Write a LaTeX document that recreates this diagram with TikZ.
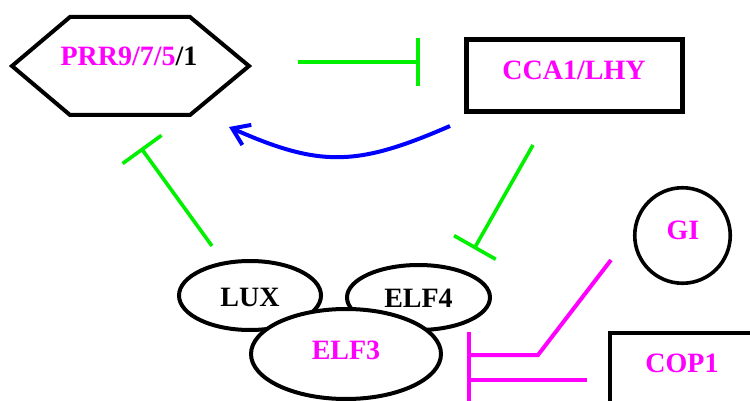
\documentclass[tikz,border=0pt]{standalone}
\usepackage{fontspec}
\setmainfont{Liberation Serif}
\usetikzlibrary{shapes.geometric,arrows.meta}
\definecolor{mag}{RGB}{255,0,255}
\definecolor{grn}{RGB}{0,240,0}
\definecolor{blu}{RGB}{0,0,255}
\begin{document}
\begin{tikzpicture}[x=1pt,y=-1pt,
  lbl/.style={font=\fontsize{28}{30}\selectfont\bfseries, inner sep=0pt, anchor=base},
  oval/.style={draw, ellipse, line width=4pt, fill=white, inner sep=0pt},
  inhg/.style={draw=grn, line width=3.6pt, -{Bar[width=48pt]}},
  inhm/.style={draw=mag, line width=4pt, -{Bar[width=46pt]}},
  act/.style={draw=blu, line width=4pt, -{Straight Barb[length=16pt,width=22pt]}}]
\useasboundingbox (0,0) rectangle (750,401);
\clip (0,0) rectangle (750,401);
\fill[white] (0,0) rectangle (750,401);

% PRR hexagon
\node[inner sep=0pt, minimum width=237pt, minimum height=98pt] (prr) at (130.5,66) {};
\draw[line width=4pt, line join=miter] (12,66) -- (70,17) -- (190,17) -- (249,66) -- (190,115) -- (70,115) -- cycle;
\node[lbl] (prrt) at (129,65.5) {\textcolor{mag}{PRR9/7/5}/1};

% CCA1/LHY
\node[draw, line width=5pt, inner sep=0pt, minimum width=216pt, minimum height=72pt] (cca) at (574.5,75.5) {};
\node[lbl, text=mag] (ccat) at (574,80) {CCA1/LHY};

% evening complex
\node[oval, minimum width=142pt, minimum height=69pt] (lux) at (250,295.5) {};
\node[lbl] (luxt) at (250,306) {LUX};
\node[oval, minimum width=143pt, minimum height=65pt] (elf4) at (418.5,297.5) {};
\node[lbl] (elf4t) at (418.5,307) {ELF4};
\node[oval, minimum width=190pt, minimum height=90pt] (elf3) at (346,354) {};
\node[lbl, text=mag] (elf3t) at (346,359) {ELF3};

% GI
\node[draw, circle, line width=3.6pt, minimum size=95.5pt, inner sep=0pt] (gi) at (682.5,235.5) {};
\node[lbl, text=mag] (git) at (683,239) {GI};

% COP1
\node[draw, line width=4pt, inner sep=0pt, minimum width=150pt, minimum height=84pt] (cop) at (685,375) {};
\node[lbl, text=mag] (copt) at (682,372) {COP1};

% connector end points
\coordinate (a1) at (298,62);   \coordinate (a2) at (420,62);
\coordinate (b1) at (450,126);  \coordinate (b2) at (229,127);
\coordinate (c1) at (212,246);  \coordinate (c2) at (141,148);
\coordinate (d1) at (533,145);  \coordinate (d2) at (474,249);
\coordinate (e1) at (611,260);  \coordinate (e2) at (538,355); \coordinate (e3) at (467,355);
\coordinate (f1) at (587,380);  \coordinate (f2) at (467,380);

\draw[inhg] (a1) -- (a2);
\draw[act] (b1) .. controls (358,166) and (321,168) .. (b2);
\draw[inhg] (c1) -- (c2);
\draw[inhg] (d1) -- (d2);
\draw[inhm, line join=miter] (e1) -- (e2) -- (e3);
\draw[inhm] (f1) -- (f2);
\end{tikzpicture}
\end{document}
